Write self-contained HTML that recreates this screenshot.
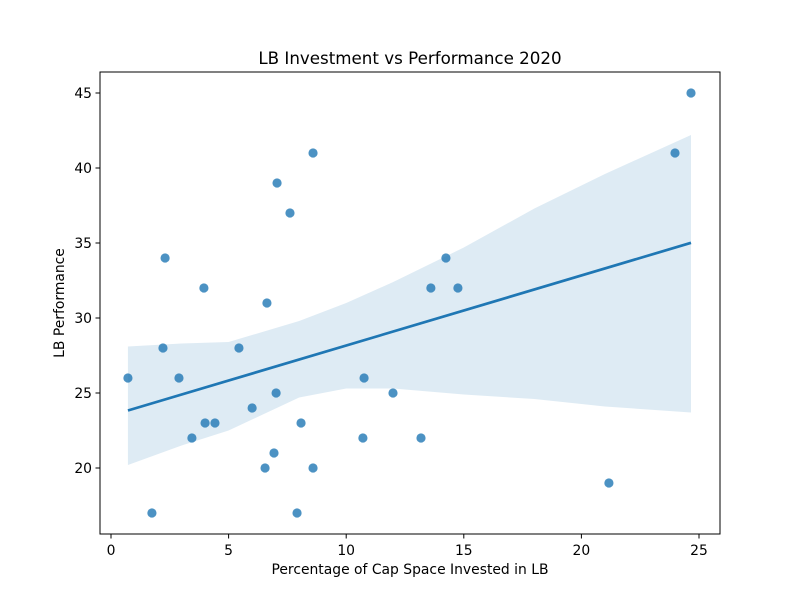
<!DOCTYPE html>
<html><head><meta charset="utf-8"><style>
body{margin:0;background:#fff}
svg text{font-family:"DejaVu Sans","Liberation Sans",sans-serif;fill:#000}
</style></head><body>
<svg id="chart" width="800" height="600" xmlns="http://www.w3.org/2000/svg">
<rect width="800" height="600" fill="#fff"/>
<g id="band"></g><g id="line"></g><g id="pts"></g>
<rect x="100" y="72" width="620" height="462" fill="none" stroke="#000" stroke-width="1"/>
<g id="axes"></g>
<text x="410" y="64" font-size="16.7" text-anchor="middle">LB Investment vs Performance 2020</text>
<text x="410" y="574" font-size="13.9" text-anchor="middle">Percentage of Cap Space Invested in LB</text>
<text transform="translate(64,303) rotate(-90)" font-size="13.9" text-anchor="middle">LB Performance</text>
</svg>
<script>
const xVals=[0.72,1.74,2.21,2.3,2.89,3.44,3.95,4.0,4.42,5.44,6.0,6.55,6.63,6.93,7.02,7.06,7.61,7.91,8.08,8.59,8.59,10.71,10.76,11.99,13.18,13.6,14.24,14.75,21.17,23.98,24.66];
const yVals=[26,17,28,34,26,22,32,23,23,28,24,20,31,21,25,39,37,17,23,41,20,22,26,25,22,32,34,32,19,41,45];
const bandX=[0.72,3,5,8,10,12,15,18,21,24.66];
const bandHigh=[28.1,28.3,28.4,29.8,31,32.4,34.7,37.3,39.6,42.2];
const bandLow=[20.2,21.5,22.5,24.7,25.3,25.3,24.9,24.6,24.1,23.7];
const xTicks=[0,5,10,15,20,25];
const yTicks=[20,25,30,35,40,45];
const NS="http://www.w3.org/2000/svg";
const sx=v=>111+v*23.52, sy=v=>468-(v-20)*15;
function mk(t,a,p){const e=document.createElementNS(NS,t);for(const k in a)e.setAttribute(k,a[k]);p.appendChild(e);return e;}
const n=xVals.length;
const mx=xVals.reduce((a,b)=>a+b)/n, my=yVals.reduce((a,b)=>a+b)/n;
let sxx=0,sxy=0;for(let i=0;i<n;i++){sxx+=(xVals[i]-mx)**2;sxy+=(xVals[i]-mx)*(yVals[i]-my);}
const b=sxy/sxx,a=my-b*mx;
const x0=Math.min(...xVals),x1=Math.max(...xVals);
const up=bandX.map((x,i)=>sx(x)+","+sy(bandHigh[i]));
const lo=bandX.map((x,i)=>sx(x)+","+sy(bandLow[i])).reverse();
const band=mk('polygon',{points:up.concat(lo).join(' '),fill:'#1f77b4','fill-opacity':0.15},document.getElementById('band'));


const ln=mk('line',{x1:sx(x0),y1:sy(a+b*x0),x2:sx(x1),y2:sy(a+b*x1),stroke:'#1f77b4','stroke-width':2.7},document.getElementById('line'));


const pg=document.getElementById('pts');
for(let i=0;i<n;i++){const c=mk('circle',{cx:sx(xVals[i]),cy:sy(yVals[i]),r:4.6,fill:'#1f77b4','fill-opacity':0.8},pg);

}
const ax=document.getElementById('axes');
xTicks.forEach(v=>{const g=mk('g',{},ax);


mk('line',{x1:sx(v),x2:sx(v),y1:534,y2:538.5,stroke:'#000'},g);const tx=mk('text',{x:sx(v),y:555,'font-size':13.9,'text-anchor':'middle'},g);tx.textContent=v;});
yTicks.forEach(v=>{const g=mk('g',{},ax);


mk('line',{x1:95.5,x2:100,y1:sy(v),y2:sy(v),stroke:'#000'},g);const tx=mk('text',{x:92,y:sy(v)+5,'font-size':13.9,'text-anchor':'end'},g);tx.textContent=v;});
</script>
</body></html>
